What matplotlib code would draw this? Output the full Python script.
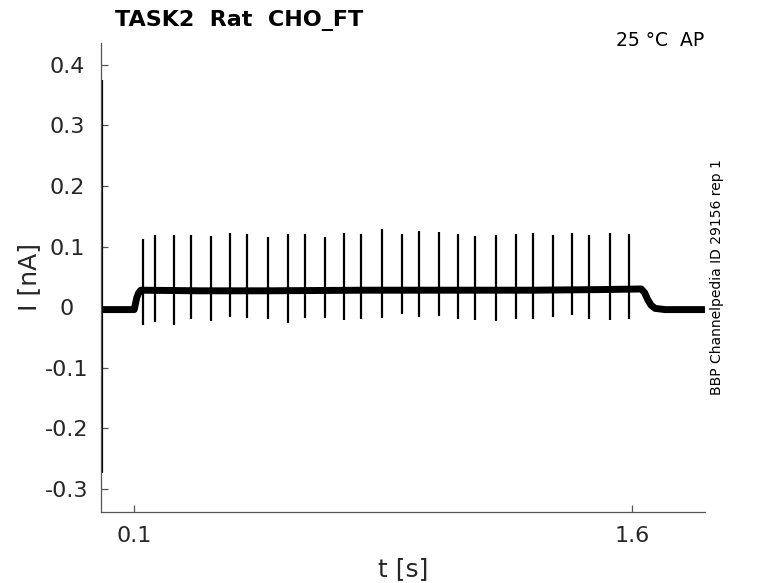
import matplotlib
matplotlib.use("Agg")
import matplotlib.pyplot as plt

# ---- data ----
# slow (non-spiking) current component: key points (t [s], I [nA])
base_t = [0.004, 0.100, 0.104, 0.108, 0.113, 0.120, 0.30, 0.50, 0.80, 1.00, 1.30, 1.50, 1.628,
          1.638, 1.648, 1.658, 1.670, 1.70, 1.82]
base_i = [-0.004, -0.004, 0.006, 0.016, 0.023, 0.028, 0.027, 0.027, 0.028, 0.028, 0.028, 0.029, 0.030,
          0.024, 0.012, 0.003, -0.002, -0.004, -0.004]

# capacitive transient at the very start
trans_t = 0.002
trans_min = -0.274
trans_max = 0.375

# action-potential spikes
spike_t = [0.127, 0.163, 0.220, 0.272, 0.332, 0.389, 0.440, 0.504, 0.564, 0.615,
           0.675, 0.733, 0.784, 0.847, 0.907, 0.958, 1.019, 1.076, 1.127, 1.190,
           1.251, 1.302, 1.362, 1.419, 1.470, 1.534, 1.591]
spike_max = [0.113, 0.119, 0.119, 0.119, 0.118, 0.123, 0.121, 0.116, 0.121, 0.121,
             0.116, 0.123, 0.121, 0.129, 0.121, 0.126, 0.124, 0.121, 0.118, 0.119,
             0.121, 0.123, 0.119, 0.123, 0.119, 0.123, 0.121]
spike_min = [-0.029, -0.024, -0.029, -0.019, -0.023, -0.016, -0.018, -0.019, -0.026, -0.018,
             -0.018, -0.021, -0.019, -0.018, -0.011, -0.016, -0.014, -0.019, -0.021, -0.023,
             -0.019, -0.019, -0.016, -0.013, -0.019, -0.021, -0.019]

yticks = [0.4, 0.3, 0.2, 0.1, 0, -0.1, -0.2, -0.3]
ytick_labels = ["0.4", "0.3", "0.2", "0.1", "0", "-0.1", "-0.2", "-0.3"]
xticks = [0.1, 1.6]
xtick_labels = ["0.1", "1.6"]

title = "TASK2  Rat  CHO_FT"
cond_text = "25 °C  AP"
side_text = "BBP Channelpedia ID 29156 rep 1"

# ---- figure ----
fig = plt.figure(figsize=(7.78, 5.83), dpi=100)
ax = fig.add_axes([0.1298, 0.1218, 0.7763, 0.8045])

ax.plot(base_t, base_i, color="black", lw=5.0, solid_capstyle="butt", solid_joinstyle="round")
ax.vlines(spike_t, spike_min, spike_max, color="black", lw=1.6)
ax.vlines([trans_t], [trans_min], [trans_max], color="black", lw=1.6)

ax.set_xlim(0.0, 1.82)
ax.set_ylim(-0.338, 0.436)

ax.set_yticks(yticks)
ax.set_yticklabels(ytick_labels, ha="center")
ax.set_xticks(xticks)
ax.set_xticklabels(xtick_labels)

for s in ["top", "right"]:
    ax.spines[s].set_visible(False)
for s in ["left", "bottom"]:
    ax.spines[s].set_color("#555555")
    ax.spines[s].set_linewidth(0.9)

ax.tick_params(axis="both", direction="in", length=5, width=0.9, colors="#555555",
               labelsize=16, labelcolor="#262626")
ax.tick_params(axis="x", pad=10)
ax.tick_params(axis="y", pad=24.5)

ax.set_xlabel("t [s]", fontsize=18, color="#262626", labelpad=8)
ax.set_ylabel("I [nA]", fontsize=18, color="#262626", labelpad=3)

fig.text(0.148, 0.955, title, fontsize=16, fontweight="bold", color="black",
         ha="left", va="baseline")
fig.text(0.905, 0.921, cond_text, fontsize=13.5, color="black", ha="right", va="baseline")
fig.text(0.921, 0.524, side_text, fontsize=10, color="black", rotation=90,
         ha="center", va="center")

fig.savefig("out.png", dpi=100)
